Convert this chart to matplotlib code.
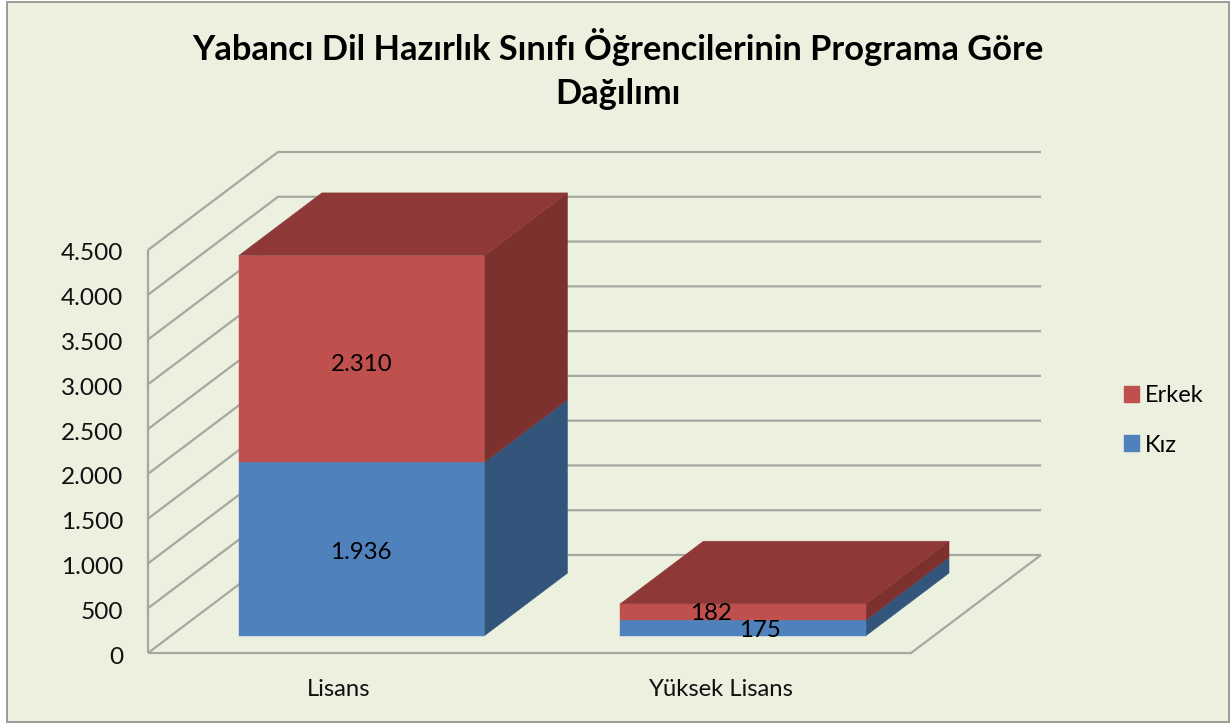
import matplotlib
matplotlib.use("Agg")
import matplotlib.pyplot as plt
from matplotlib.patches import Patch, Rectangle
from matplotlib.transforms import ScaledTranslation

plt.rcParams['font.family'] = ['Lato', 'DejaVu Sans']

categories = ["Lisans", "Yüksek Lisans"]
kiz = [1936, 175]
erkek = [2310, 182]
kiz_labels = ["1.936", "175"]
erkek_labels = ["2.310", "182"]
yticks = [0, 500, 1000, 1500, 2000, 2500, 3000, 3500, 4000, 4500]
yticklabels = ["0", "500", "1.000", "1.500", "2.000", "2.500", "3.000", "3.500", "4.000", "4.500"]
title = "Yabancı Dil Hazırlık Sınıfı Öğrencilerinin Programa Göre\nDağılımı"

W, H = 1231, 724
BG = "#EBF0DF"
GRID = "#A5A8A1"
BLUE, BLUE_SIDE = "#4F81BD", "#33557B"
RED, RED_SIDE, RED_TOP = "#C0504D", "#7D312F", "#8E3938"

fig = plt.figure(figsize=(W / 100, H / 100), dpi=100, facecolor="white")
fig.add_artist(Rectangle((7 / W, 1 - 722 / H), (1229 - 7) / W, (722 - 2) / H, transform=fig.transFigure,
                         facecolor=BG, edgecolor="#9A9C97", linewidth=1.4, zorder=-1))

# front plane of the chart, in pixels: x 148..911, y 653..250
ax = fig.add_axes([148 / W, 1 - 653 / H, (911 - 148) / W, (653 - 250) / H])
ax.set_xlim(0, 2)
ax.set_ylim(0, 4500)
ax.patch.set_visible(False)
for s in ax.spines.values():
    s.set_visible(False)

# oblique projection of the depth axis
DX = 130 / 381.5
DY = 98 / (403 / 4500)


def proj(x, y, z):
    return x + z * DX, y + z * DY


def line(pts, **kw):
    xs, ys = zip(*[proj(*p) for p in pts])
    ax.plot(xs, ys, color=GRID, lw=1.6, clip_on=False, solid_joinstyle="miter",
            solid_capstyle="butt", zorder=1, **kw)


for v in yticks:
    line([(0, v, 0), (0, v, 1), (2, v, 1)])
line([(0, 0, 0), (0, yticks[-1], 0)])
line([(0, 0, 0), (2, 0, 0), (2, 0, 1)])


def face(pts, color, z):
    xs, ys = zip(*[proj(*p) for p in pts])
    ax.fill(xs, ys, color=color, lw=0.3, clip_on=False, zorder=z)


BAR_W = 0.644
Z0, Z1 = 0.175, 0.815


def box(x0, y0, y1, front, side, top, z):
    x1 = x0 + BAR_W
    face([(x1, y0, Z0), (x1, y0, Z1), (x1, y1, Z1), (x1, y1, Z0)], side, z)
    face([(x0, y0, Z0), (x1, y0, Z0), (x1, y1, Z0), (x0, y1, Z0)], front, z + 0.1)
    if top:
        face([(x0, y1, Z0), (x1, y1, Z0), (x1, y1, Z1), (x0, y1, Z1)], top, z + 0.1)


label_offsets = [[(-1, -3), (0, -5)], [(17, -2), (-32, -1)]]
for i, (k, e) in enumerate(zip(kiz, erkek)):
    x0 = i + 0.5 - BAR_W / 2
    box(x0, 0, k, BLUE, BLUE_SIDE, None, 3 + i)
    box(x0, k, k + e, RED, RED_SIDE, RED_TOP, 3.5 + i)
    cx, _ = proj(i + 0.5, 0, Z0)
    _, base = proj(0, 0, Z0)
    ax.annotate(kiz_labels[i], (cx, base + k / 2), xytext=label_offsets[i][0], textcoords="offset pixels",
                ha="center", va="center", fontsize=17.3, color="black", zorder=9)
    ax.annotate(erkek_labels[i], (cx, base + k + e / 2), xytext=label_offsets[i][1], textcoords="offset pixels",
                ha="center", va="center", fontsize=17.3, color="black", zorder=9)

ax.set_yticks(yticks, yticklabels, fontsize=17.6, color="#111111")
ax.set_xticks([0.5, 1.5], categories, fontsize=17.2, color="#111111")
ax.tick_params(axis="y", length=0, pad=18)
ax.tick_params(axis="x", length=0, pad=18.5)
for lab in ax.get_yticklabels():
    lab.set_transform(lab.get_transform() + ScaledTranslation(0, -2 / 72 * 0.72, fig.dpi_scale_trans))

fig.text(618 / W, 1 - 69 / H, title, ha="center", va="center", fontsize=24.75, fontweight="bold",
         color="black", linespacing=1.45)

leg = fig.legend(handles=[Patch(color=RED, label="Erkek"), Patch(color=BLUE, label="Kız")],
                 loc="center left", bbox_to_anchor=(1124 / W, 1 - 420.5 / H), frameon=False,
                 fontsize=17, handlelength=0.65, handleheight=0.65, handletextpad=0.25,
                 labelspacing=1.19, borderpad=0, borderaxespad=0)

fig.savefig("out.png", dpi=100, facecolor=fig.get_facecolor())
